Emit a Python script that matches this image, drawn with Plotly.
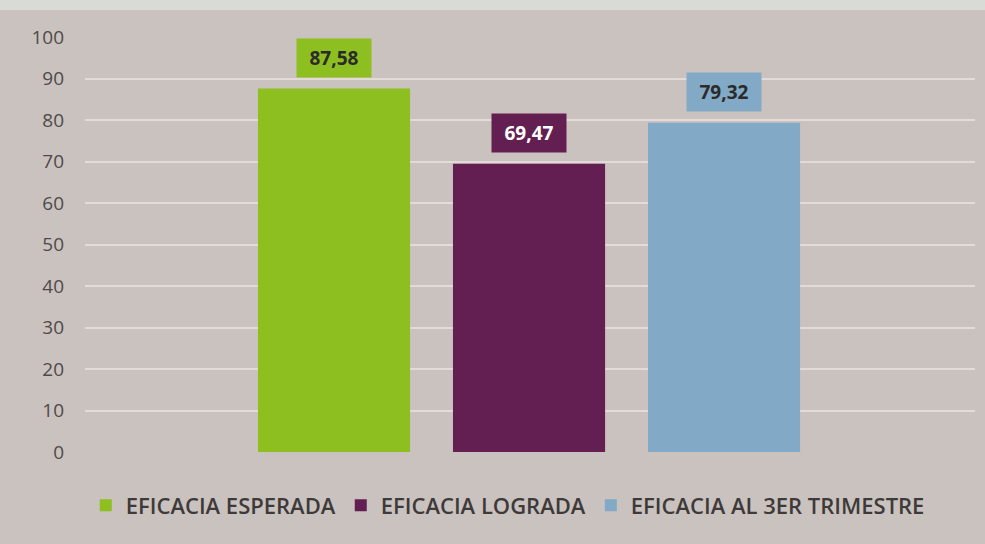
import plotly.graph_objects as go

# series (one bar per series, as in the original spreadsheet chart)
series = ["EFICACIA ESPERADA", "EFICACIA LOGRADA", "EFICACIA AL 3ER TRIMESTRE"]
values = [87.58, 69.47, 79.32]
labels = ["87,58", "69,47", "79,32"]
colors = ["#8cbf1f", "#641f52", "#82a9c6"]
label_font_colors = ["#2b2b2b", "#ffffff", "#2b2b2b"]

fig = go.Figure()
for i, name in enumerate(series):
    fig.add_trace(go.Bar(
        x=[i], y=[values[i]], name=name,
        marker=dict(color=colors[i], line=dict(width=0)),
        width=0.78,
    ))
    fig.add_annotation(
        x=i, y=values[i], yshift=31, text="<b>%s</b>" % labels[i],
        showarrow=False, bgcolor=colors[i], width=66, height=30, borderpad=4,
        font=dict(family="Open Sans", size=19, color=label_font_colors[i]),
    )

# light strip at the top of the photo
fig.add_shape(type="rect", xref="paper", yref="paper", x0=-0.2, x1=1.1, y0=1.065, y1=1.2,
              fillcolor="#d9dcd6", line=dict(width=0), layer="below")

fig.update_layout(
    width=985, height=544,
    margin=dict(l=85, r=10, t=37, b=92),
    paper_bgcolor="#cac2bf",
    plot_bgcolor="#cac2bf",
    barmode="overlay",
    showlegend=True,
    legend=dict(
        orientation="h", x=0.475, xanchor="center", y=-0.078, yanchor="top",
        font=dict(family="Open Sans", size=22, color="#3e3a3a", weight=600),
        itemwidth=30, traceorder="normal",
    ),
    xaxis=dict(range=[-1.277, 3.287], showticklabels=False, showgrid=False,
               zeroline=False, showline=False, ticks=""),
    yaxis=dict(range=[0, 100], dtick=10, showgrid=True, gridcolor="#e2dbd8",
               gridwidth=1.5, zeroline=False, showline=False, ticks="",
               ticklabelstandoff=20,
               tickfont=dict(family="Open Sans", size=19, color="#4f4a4a")),
)

fig.write_html("out.html", config={"displayModeBar": False},
               post_script="document.body.style.margin='0';")
